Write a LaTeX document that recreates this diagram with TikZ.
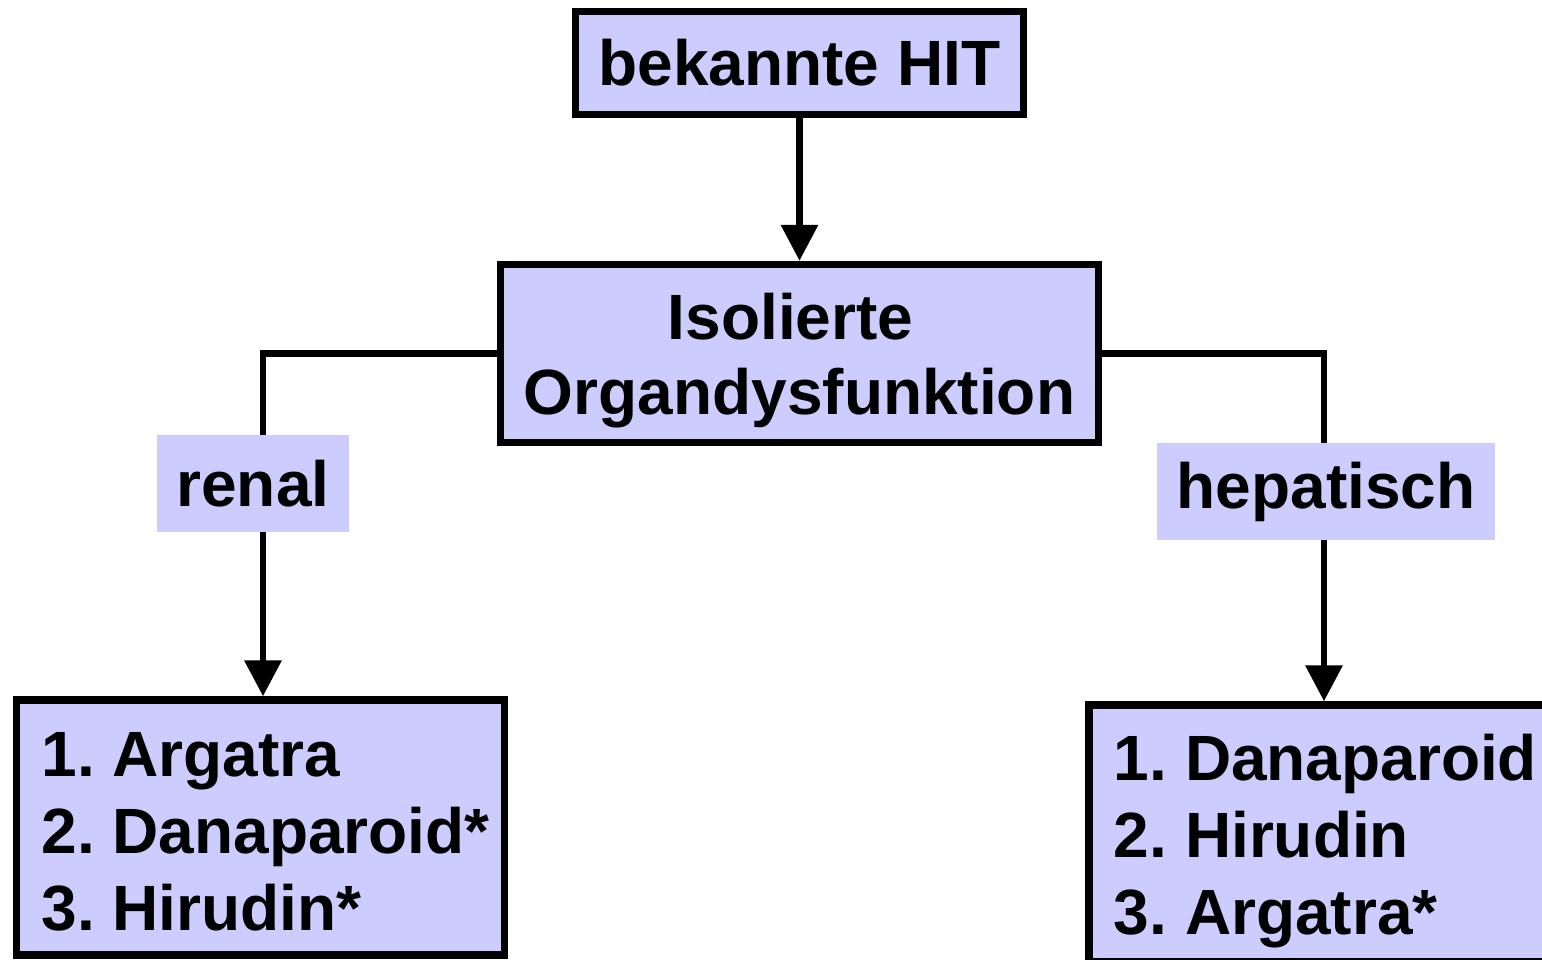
\documentclass[tikz,border=0pt]{standalone}
\usepackage{fontspec}
\setmainfont{Liberation Sans}
\usetikzlibrary{arrows.meta}
\definecolor{lav}{HTML}{CCCCFF}
\frenchspacing
\newcommand{\ind}[1]{\hspace*{#1}}
\begin{document}
\begin{tikzpicture}[x=0.5pt,y=-0.5pt,
  box/.style={draw=black, line width=3.7pt, fill=lav, inner sep=0pt,
    font=\bfseries\fontsize{32}{38.5}\selectfont},
  tag/.style={fill=lav, inner sep=0pt, font=\bfseries\fontsize{32}{38.5}\selectfont},
  link/.style={line width=3.3pt},
  arr/.style={link, -{Triangle[length=18pt,width=18pt]}}]
\clip (0,0) rectangle (1542,959);

% boxes
\node[box, minimum width=224pt, minimum height=51.5pt] (hit) at (799.5,63) {bekannte HIT};
\node[box, minimum width=299pt, minimum height=89pt, align=center,
  font=\bfseries\fontsize{32}{37.5}\selectfont] (org) at (799.5,353.5)
  {\rule{0pt}{30pt}Isolierte\hspace*{9pt}\\Organdysfunktion};
\node[box, minimum width=244pt, minimum height=127.5pt, align=left] (lbox) at (260.75,827.5)
  {\rule{0pt}{26pt}\ind{5pt}1. Argatra\\\ind{5pt}2. Danaparoid*\\\ind{5pt}3. Hirudin*};
\node[box, minimum width=229.5pt, minimum height=128.5pt, align=left] (rbox) at (1318.5,833.5)
  {\rule{0pt}{31pt}\ind{7pt}1. Danaparoid\\\ind{7pt}2. Hirudin\\\ind{7pt}3. Argatra*};

% branch labels
\node[tag, minimum width=96pt, minimum height=48.5pt] (renal) at (253,483.5) {renal};
\node[tag, minimum width=169pt, minimum height=48.5pt] (hep) at (1326,491.5) {hepatisch};

% connector columns
\coordinate (lcol) at (263,0);
\coordinate (rcol) at (1324,0);

% connectors
\draw[arr] (hit.south) -- (org.north);
\draw[link] (org.west) -| (lcol |- renal.north);
\draw[arr] (lcol |- renal.south) -- (lcol |- lbox.north);
\draw[link] (org.east) -| (rcol |- hep.north);
\draw[arr] (rcol |- hep.south) -- (rcol |- rbox.north);
\end{tikzpicture}
\end{document}
